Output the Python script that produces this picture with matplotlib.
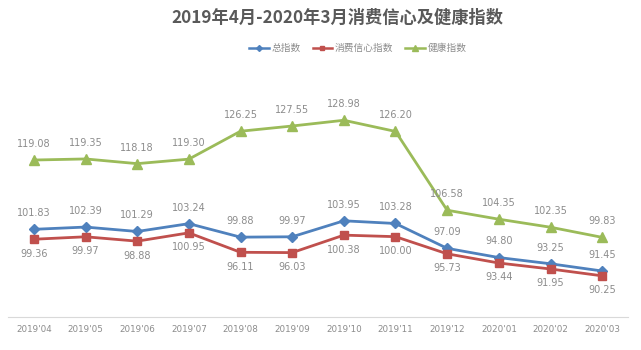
import matplotlib.pyplot as plt
import numpy as np

plt.rcParams['font.family'] = ['Noto Sans CJK SC', 'DejaVu Sans']

months = ["2019'04", "2019'05", "2019'06", "2019'07", "2019'08", "2019'09",
          "2019'10", "2019'11", "2019'12", "2020'01", "2020'02", "2020'03"]
total_index = [101.83, 102.39, 101.29, 103.24, 99.88, 99.97,
               103.95, 103.28, 97.09, 94.80, 93.25, 91.45]
confidence_index = [99.36, 99.97, 98.88, 100.95, 96.11, 96.03,
                    100.38, 100.00, 95.73, 93.44, 91.95, 90.25]
health_index = [119.08, 119.35, 118.18, 119.30, 126.25, 127.55,
                128.98, 126.20, 106.58, 104.35, 102.35, 99.83]

series = [
    ("总指数", total_index, "#4F81BD", "D", 5, 8),
    ("消费信心指数", confidence_index, "#C0504D", "s", 6, -14),
    ("健康指数", health_index, "#9BBB59", "^", 7, 8),
]

fig = plt.figure(figsize=(6.41, 3.5), dpi=100)
ax = fig.add_axes([8 / 641, 33 / 350, 620 / 641, 241 / 350])

x = np.arange(len(months))
for name, vals, color, marker, ms, dy in series:
    ax.plot(x, vals, color=color, lw=2.0, marker=marker, ms=ms, label=name)
    for xi, v in zip(x, vals):
        ax.annotate(f"{v:.2f}", (xi, v), xytext=(0, dy), textcoords="offset points",
                    ha="center", va="bottom", fontsize=7, color="#8c8c8c",
                    family="DejaVu Sans")

ax.set_xlim(-0.5, len(months) - 0.5)
ax.set_ylim(80, 140)
ax.set_yticks([])
ax.set_xticks(x)
ax.set_xticklabels(months, fontsize=6.3, color="#8c8c8c", family="DejaVu Sans")
ax.tick_params(axis="x", length=0, pad=6)
for s in ["top", "left", "right"]:
    ax.spines[s].set_visible(False)
ax.spines["bottom"].set_color("#d9d9d9")

fig.text(337 / 641, 1 - 18 / 350, "2019年4月-2020年3月消费信心及健康指数", ha="center", va="center",
         fontsize=12.4, fontweight="bold", color="#595959")
leg = fig.legend(loc="center", bbox_to_anchor=(358 / 641, 1 - 48 / 350), ncol=3, frameon=False,
                 fontsize=7, handlelength=2.0, handletextpad=0.3, columnspacing=1.2,
                 markerscale=0.6, labelcolor="#8c8c8c")
for line in leg.get_lines():
    line.set_linewidth(1.8)

fig.savefig("out.png", dpi=100)
